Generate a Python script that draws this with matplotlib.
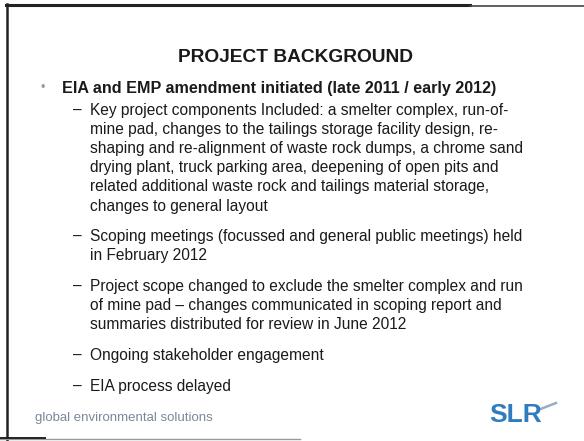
import matplotlib
matplotlib.use("Agg")
import matplotlib.pyplot as plt

title = "PROJECT BACKGROUND"
main_bullet = "EIA and EMP amendment initiated (late 2011 / early 2012)"
sub_items = [
    ["Key project components Included: a smelter complex, run-of-",
     "mine pad, changes to the tailings storage facility design, re-",
     "shaping and re-alignment of waste rock dumps, a chrome sand",
     "drying plant, truck parking area, deepening of open pits and",
     "related additional waste rock and tailings material storage,",
     "changes to general layout"],
    ["Scoping meetings (focussed and general public meetings) held",
     "in February 2012"],
    ["Project scope changed to exclude the smelter complex and run",
     "of mine pad \u2013 changes communicated in scoping report and",
     "summaries distributed for review in June 2012"],
    ["Ongoing stakeholder engagement"],
    ["EIA process delayed"],
]
footer = "global environmental solutions"
logo = "SLR"

W, H = 584, 441
fig = plt.figure(figsize=(W / 100, H / 100), dpi=100)
ax = fig.add_axes([0, 0, 1, 1])
ax.set_xlim(0, W)
ax.set_ylim(H, 0)
ax.axis("off")
fig.patch.set_facecolor("white")

font = "Liberation Sans"
txt = "#1a1a1a"

# frame
ax.plot([7, 7], [4, 441], color="#222222", lw=1.8)
ax.plot([6, 470], [5, 5], color="#222222", lw=2.2)
ax.plot([470, 584], [5.5, 5.5], color="#444444", lw=1.2)
ax.plot([0, 300], [439, 439], color="#999999", lw=1.0)
ax.plot([0, 45], [438, 438], color="#222222", lw=1.4)

ax.text(296, 57, title, ha="center", va="center", fontsize=13.8,
        fontweight="bold", family=font, color=txt)

ax.text(43, 88, "\u2022", ha="center", va="center", fontsize=9,
        family=font, color="#999999")
ax.text(62, 88, main_bullet, ha="left", va="center", fontsize=11.6,
        fontweight="bold", family=font, color=txt)

line_h = 19.2
gap = 11.5
y = 110
for item in sub_items:
    ax.text(73, y, "\u2013", ha="left", va="center", fontsize=11.2,
            family=font, color=txt)
    for i, line in enumerate(item):
        ax.text(90, y + i * line_h, line, ha="left", va="center",
                fontsize=11.2, family=font, color=txt)
    y += len(item) * line_h + gap

ax.text(35, 418, footer, ha="left", va="center", fontsize=9.5,
        family=font, color="#5a6a80", alpha=0.8)
ax.text(489, 415, logo, ha="left", va="center", fontsize=19,
        fontweight="bold", family=font, color="#2f7cbf")
ax.plot([538, 556], [410, 403], color="#6a8aa8", lw=1.8, alpha=0.7)

fig.savefig("out.png", dpi=100, facecolor="white")
